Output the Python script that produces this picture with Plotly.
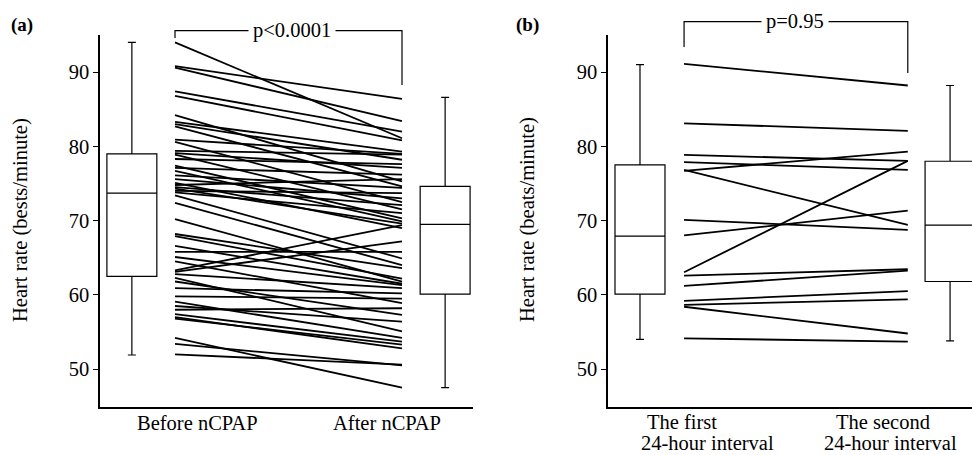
import plotly.graph_objects as go

# ---------------- data ----------------
# Panel (a): heart rate before / after nCPAP (paired)
before_ncpap = [94.0, 90.8, 90.6, 87.4, 86.8, 84.2, 83.3, 83.0, 82.7, 80.9,
                80.6, 79.4, 79.1, 78.9, 78.3, 77.4, 77.1, 76.7, 76.1, 75.6,
                75.1, 74.8, 74.5, 74.3, 74.0, 73.8, 73.4, 72.4, 70.2, 68.2,
                67.9, 66.6, 65.8, 65.1, 64.5, 63.3, 63.1, 62.8, 62.3, 61.8,
                60.9, 59.8, 59.1, 58.5, 58.0, 57.4, 57.0, 56.8, 54.2, 53.4, 52.0]
after_ncpap = [81.1, 86.4, 83.4, 82.0, 80.8, 75.3, 79.3, 78.2, 74.6, 79.0,
               72.5, 78.9, 77.1, 71.5, 77.6, 70.3, 76.2, 69.9, 74.4, 73.0,
               69.0, 75.6, 72.1, 69.6, 73.7, 71.0, 64.9, 64.0, 61.8, 63.6,
               62.2, 61.5, 65.8, 61.3, 58.9, 69.4, 67.2, 60.9, 55.1, 57.3,
               60.2, 59.5, 54.2, 56.4, 58.2, 53.7, 52.8, 53.3, 47.5, 50.5, 50.6]

# Panel (b): first vs second 24-hour interval (paired)
first_24h = [91.1, 83.1, 78.85, 77.87, 76.7, 76.83, 70.1, 68.0, 63.05, 62.6,
             61.2, 59.2, 58.65, 58.4, 54.15]
second_24h = [88.2, 82.1, 78.05, 76.83, 79.3, 69.42, 68.75, 71.35, 78.05, 63.45,
              63.26, 60.5, 59.4, 54.8, 53.7]

# box-plot summaries: [low, q1, median, q3, high]
box_before = [51.9, 62.5, 73.7, 79.0, 94.0]
box_after = [47.5, 60.1, 69.5, 74.6, 86.6]
box_first = [54.0, 60.1, 67.9, 77.5, 91.0]
box_second = [53.8, 61.8, 69.4, 78.0, 88.2]

y_ticks = [50, 60, 70, 80, 90]
labels_a = ["Before nCPAP", "After nCPAP"]
labels_b = [["The first", "24-hour interval"], ["The second", "24-hour interval"]]
p_texts = ["p<0.0001", "p=0.95"]
y_titles = ["Heart rate (bests/minute)", "Heart rate (beats/minute)"]
panel_tags = ["(a)", "(b)"]

# ---------------- figure ----------------
FONT = "Liberation Serif"
FS = 20.5
fig = go.Figure()


def add_pairs(xa, ya, v0, v1):
    for a, b in zip(v0, v1):
        fig.add_trace(go.Scatter(x=[0, 1], y=[a, b], mode="lines",
                                 line=dict(color="black", width=1.8),
                                 xaxis=xa, yaxis=ya, hoverinfo="skip"))


def add_box(xa, ya, pos, st, w):
    fig.add_trace(go.Box(x=[pos], lowerfence=[st[0]], q1=[st[1]], median=[st[2]],
                         q3=[st[3]], upperfence=[st[4]], width=w, whiskerwidth=0.16,
                         boxpoints=False, fillcolor="white",
                         line=dict(color="black", width=1.2),
                         xaxis=xa, yaxis=ya))


add_pairs("x", "y", before_ncpap, after_ncpap)
add_pairs("x2", "y2", first_24h, second_24h)
add_box("x", "y", -0.19, box_before, 0.22)
add_box("x", "y", 1.19, box_after, 0.22)
add_box("x2", "y2", -0.197, box_first, 0.2235)
add_box("x2", "y2", 1.189, box_second, 0.2235)

W, H = 972, 455
ydom = [1 - 407 / H, 1 - 35 / H]
xaxis_common = dict(showgrid=False, zeroline=False, showline=True, linecolor="black",
                    linewidth=1.5, showticklabels=False, ticks="", fixedrange=True)
yaxis_common = dict(showgrid=False, zeroline=False, showline=True, linecolor="black",
                    linewidth=1.5, ticks="outside", ticklen=5, tickwidth=1.2,
                    tickcolor="black", tickvals=y_ticks, range=[44.9, 95.0],
                    tickfont=dict(family=FONT, size=FS, color="black"), domain=ydom)

fig.update_layout(
    width=W, height=H, margin=dict(l=0, r=0, t=0, b=0),
    paper_bgcolor="white", plot_bgcolor="white", showlegend=False,
    xaxis=dict(domain=[100 / W, 473 / W], range=[-0.3304, 1.3128], **xaxis_common),
    yaxis=dict(anchor="x", **yaxis_common),
    xaxis2=dict(domain=[608 / W, 1.0], range=[-0.34, 1.287], anchor="y2", **xaxis_common),
    yaxis2=dict(anchor="x2", **yaxis_common),
)

shapes = []
ann = []
tfont = dict(family=FONT, size=FS, color="black")
C = dict(showarrow=False, xanchor="center", yanchor="middle")

# brackets
for xr, ytop, yl, yrgt, ptxt, px in [("x", 1 - 30.7 / H, 1 - 38 / H, 1 - 85 / H, p_texts[0], 0.515),
                                     ("x2", 1 - 21.7 / H, 1 - 47 / H, 1 - 73 / H, p_texts[1], 0.496)]:
    shapes.append(dict(type="path", xref=xr, yref="paper",
                       path=f"M 0 {yl} L 0 {ytop} L 1 {ytop} L 1 {yrgt}",
                       line=dict(color="black", width=1.2)))
    ann.append(dict(x=px, y=ytop, xref=xr, yref="paper", text=ptxt,
                    font=tfont, bgcolor="white", borderpad=4, **C))

# x category labels
ann.append(dict(x=0.097, y=1 - 423 / H, xref="x", yref="paper", text=labels_a[0],
                font=tfont, **C))
ann.append(dict(x=0.934, y=1 - 423 / H, xref="x", yref="paper", text=labels_a[1],
                font=tfont, **C))
for (l1, l2), x1, x2 in zip(labels_b, [-0.009, 0.890], [0.103, 0.921]):
    ann.append(dict(x=x1, y=1 - 422 / H, xref="x2", yref="paper", text=l1,
                    font=tfont, **C))
    ann.append(dict(x=x2, y=1 - 443 / H, xref="x2", yref="paper", text=l2,
                    font=tfont, **C))

# y titles
for t, xp in zip(y_titles, [20, 527]):
    ann.append(dict(x=xp / W, y=1 - 220 / H, xref="paper", yref="paper", text=t,
                    textangle=-90, font=tfont, **C))

# panel tags
for t, xp in zip(panel_tags, [22, 527]):
    ann.append(dict(x=xp / W, y=1 - 25 / H, xref="paper", yref="paper", text=f"<b>{t}</b>",
                    font=dict(family=FONT, size=19, color="black"), **C))

fig.update_layout(shapes=shapes, annotations=ann)
fig.write_html("out.html", config={"displayModeBar": False},
               post_script="document.body.style.margin='0';document.body.style.overflow='hidden';")
